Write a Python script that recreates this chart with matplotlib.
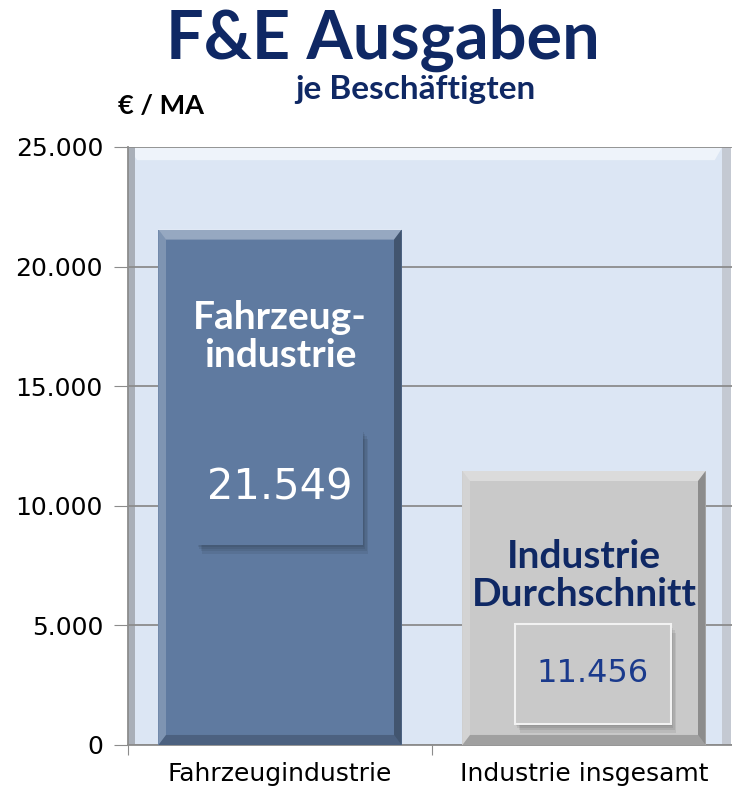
import numpy as np
import matplotlib.pyplot as plt
from matplotlib.patches import Rectangle, Polygon

## F&E Ausgaben je Beschaeftigten (EUR / MA)

categories = ['Fahrzeugindustrie', 'Industrie insgesamt']
values = [21549, 11456]
value_labels = ['21.549', '11.456']
bar_texts = ['Fahrzeug-\nindustrie', 'Industrie\nDurchschnitt']
yticks = [0, 5000, 10000, 15000, 20000, 25000]
ytick_labels = ['0', '5.000', '10.000', '15.000', '20.000', '25.000']

navy = '#0f2864'
bar_colors = ['#5f7aa0', '#c9c9c9']
txt_colors = ['white', '#0f2864']
val_colors = ['white', '#1a3a8c']

plt.rcParams['font.family'] = ['Lato', 'DejaVu Sans']

fig = plt.figure(figsize=(7.32, 7.94), dpi=100)
ax = fig.add_axes([128/732, 1-745/794, 608/732, 598/794])
ax.set_xlim(-0.5, 1.5)
ax.set_ylim(0, 25000)

# wall
ax.add_patch(Rectangle((-0.5, 0), 1.955, 25000, fc='#dce6f4', ec='none', zorder=0))
ax.add_patch(Rectangle((1.455, 0), 0.03, 25000, fc='#c4c9d2', ec='none', zorder=0))
ax.add_patch(Polygon([[-0.5, 25000], [1.455, 25000], [1.43, 24450], [-0.47, 24450]],
                     fc='#eef3fa', ec='none', zorder=0))
ax.add_patch(Rectangle((-0.5, 0), 0.022, 25000, fc='#a9afb8', ec='none', zorder=0))

for y in yticks:
    ax.axhline(y, color='#8c8c8c', lw=1.3, zorder=1)

x = np.arange(len(categories))
w = 0.8
bars = ax.bar(x, values, width=w, color=bar_colors, zorder=3)

# bevel edges
bx = 0.025
by = 420
for i, b in enumerate(bars):
    x0, x1 = b.get_x(), b.get_x() + b.get_width()
    h = b.get_height()
    top = Polygon([[x0, h], [x1, h], [x1-bx, h-by], [x0+bx, h-by]],
                  fc='white', alpha=0.35, ec='none', zorder=4)
    left = Polygon([[x0, 0], [x0, h], [x0+bx, h-by], [x0+bx, by]],
                   fc='white', alpha=0.2, ec='none', zorder=4)
    right = Polygon([[x1, 0], [x1, h], [x1-bx, h-by], [x1-bx, by]],
                    fc='black', alpha=0.3, ec='none', zorder=4)
    bot = Polygon([[x0, 0], [x1, 0], [x1-bx, by], [x0+bx, by]],
                  fc='black', alpha=0.2, ec='none', zorder=4)
    for p in (top, left, right, bot):
        ax.add_patch(p)

# labels inside bars
ax.text(0, 17060, bar_texts[0], ha='center', va='center', fontsize=28,
        fontweight='bold', color=txt_colors[0], linespacing=1.1, zorder=6)
ax.text(1, 7100, bar_texts[1], ha='center', va='center', fontsize=28,
        fontweight='bold', color=txt_colors[1], linespacing=1.1, zorder=6)

# value boxes
boxes = [(-0.273, 8360, 0.546, 4810), (0.773, 880, 0.513, 4180)]
for i, (bx0, by0, bw, bh) in enumerate(boxes):
    for k in range(4):
        ax.add_patch(Rectangle((bx0 + 0.004*(k+1), by0 - 90*(k+1)), bw, bh,
                               fc='black', alpha=0.07, ec='none', zorder=5))
    ax.add_patch(Rectangle((bx0, by0), bw, bh, fc=bar_colors[i],
                           ec='#f2f2f2' if i == 1 else 'none', lw=1.5, zorder=5))
    ax.text(bx0 + bw/2, by0 + bh/2, value_labels[i], ha='center', va='center',
            fontsize=30 if i == 0 else 23, color=val_colors[i],
            family='DejaVu Sans', zorder=6)

ax.set_xticks([-0.5, 0.5, 1.5], minor=False)
ax.set_xticklabels([])
ax.set_xticks(x, minor=True)
ax.set_xticklabels(categories, minor=True, fontsize=18, family='DejaVu Sans')
ax.tick_params(axis='x', which='minor', length=0, pad=12)
ax.tick_params(axis='x', which='major', length=7, color='#8c8c8c', direction='out')
ax.set_yticks(yticks)
ax.set_yticklabels(ytick_labels, fontsize=18, family='DejaVu Sans')
ax.tick_params(axis='y', length=10, color='#8c8c8c', pad=8)

for s in ['top', 'right']:
    ax.spines[s].set_visible(False)
ax.spines['left'].set_color('#8c8c8c')
ax.spines['bottom'].set_color('#8c8c8c')
ax.spines['left'].set_linewidth(1.3)
ax.spines['bottom'].set_linewidth(1.3)

fig.text(383/732, 1-40/794, 'F&E Ausgaben', ha='center', va='center', fontsize=48,
         fontweight='bold', color=navy)
fig.text(415/732, 1-89/794, 'je Beschäftigten', ha='center', va='center', fontsize=24,
         fontweight='bold', color=navy)
fig.text(118/732, 1-106/794, '€ / MA', ha='left', va='center', fontsize=19.5,
         fontweight='bold', color='black')

fig.savefig('out.png', dpi=100)
